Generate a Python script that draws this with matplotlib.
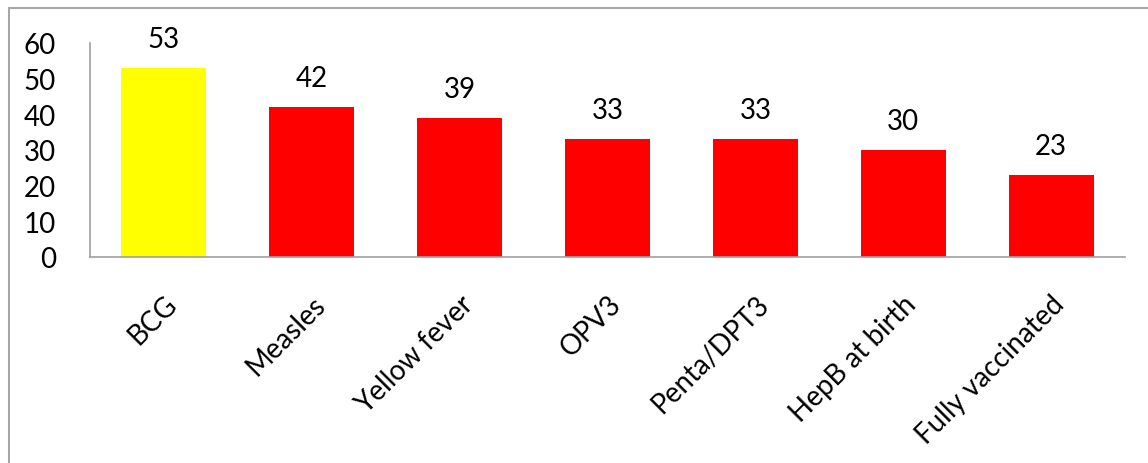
import matplotlib
matplotlib.use("Agg")
import matplotlib.pyplot as plt
from matplotlib.patches import Rectangle

# Vaccination coverage (%) by antigen
vaccines = ["BCG", "Measles", "Yellow fever", "OPV3", "Penta/DPT3",
            "HepB at birth", "Fully vaccinated"]
coverage = [53, 42, 39, 33, 33, 30, 23]
bar_colors = ["#FFFF00", "#FF0000", "#FF0000", "#FF0000", "#FF0000",
              "#FF0000", "#FF0000"]

plt.rcParams["font.family"] = ["Lato", "DejaVu Sans"]

fig = plt.figure(figsize=(11.48, 4.64), dpi=100)
ax = fig.add_axes([90 / 1148, 1 - 258 / 464, 1035 / 1148, 214 / 464])

x = range(len(vaccines))
bars = ax.bar(x, coverage, width=0.575, color=bar_colors)

for rect, val in zip(bars, coverage):
    ax.text(rect.get_x() + rect.get_width() / 2, val + 6.0, str(val),
            ha="center", va="baseline", fontsize=20)

ax.set_xlim(-0.5, len(vaccines) - 0.5)
ax.set_ylim(0, 60)
ax.set_yticks(range(0, 61, 10))
ax.set_xticks(list(x))
ax.set_xticklabels(vaccines, rotation=45, ha="right", rotation_mode="anchor",
                   fontsize=20)
ax.tick_params(axis="both", length=0, labelsize=20)
ax.tick_params(axis="x", pad=24)
ax.tick_params(axis="y", pad=24.5)

for side in ["top", "right"]:
    ax.spines[side].set_visible(False)
for side in ["left", "bottom"]:
    ax.spines[side].set_color("#A0A0A0")
    ax.spines[side].set_linewidth(1.2)

# outer chart-area frame
fig.patches.append(Rectangle((9 / 1148, -0.1), 1.2, 1 - 9 / 464 + 0.1,
                             transform=fig.transFigure, fill=False,
                             edgecolor="#A6A6A6", linewidth=1.5))

fig.savefig("out.png", dpi=100)
